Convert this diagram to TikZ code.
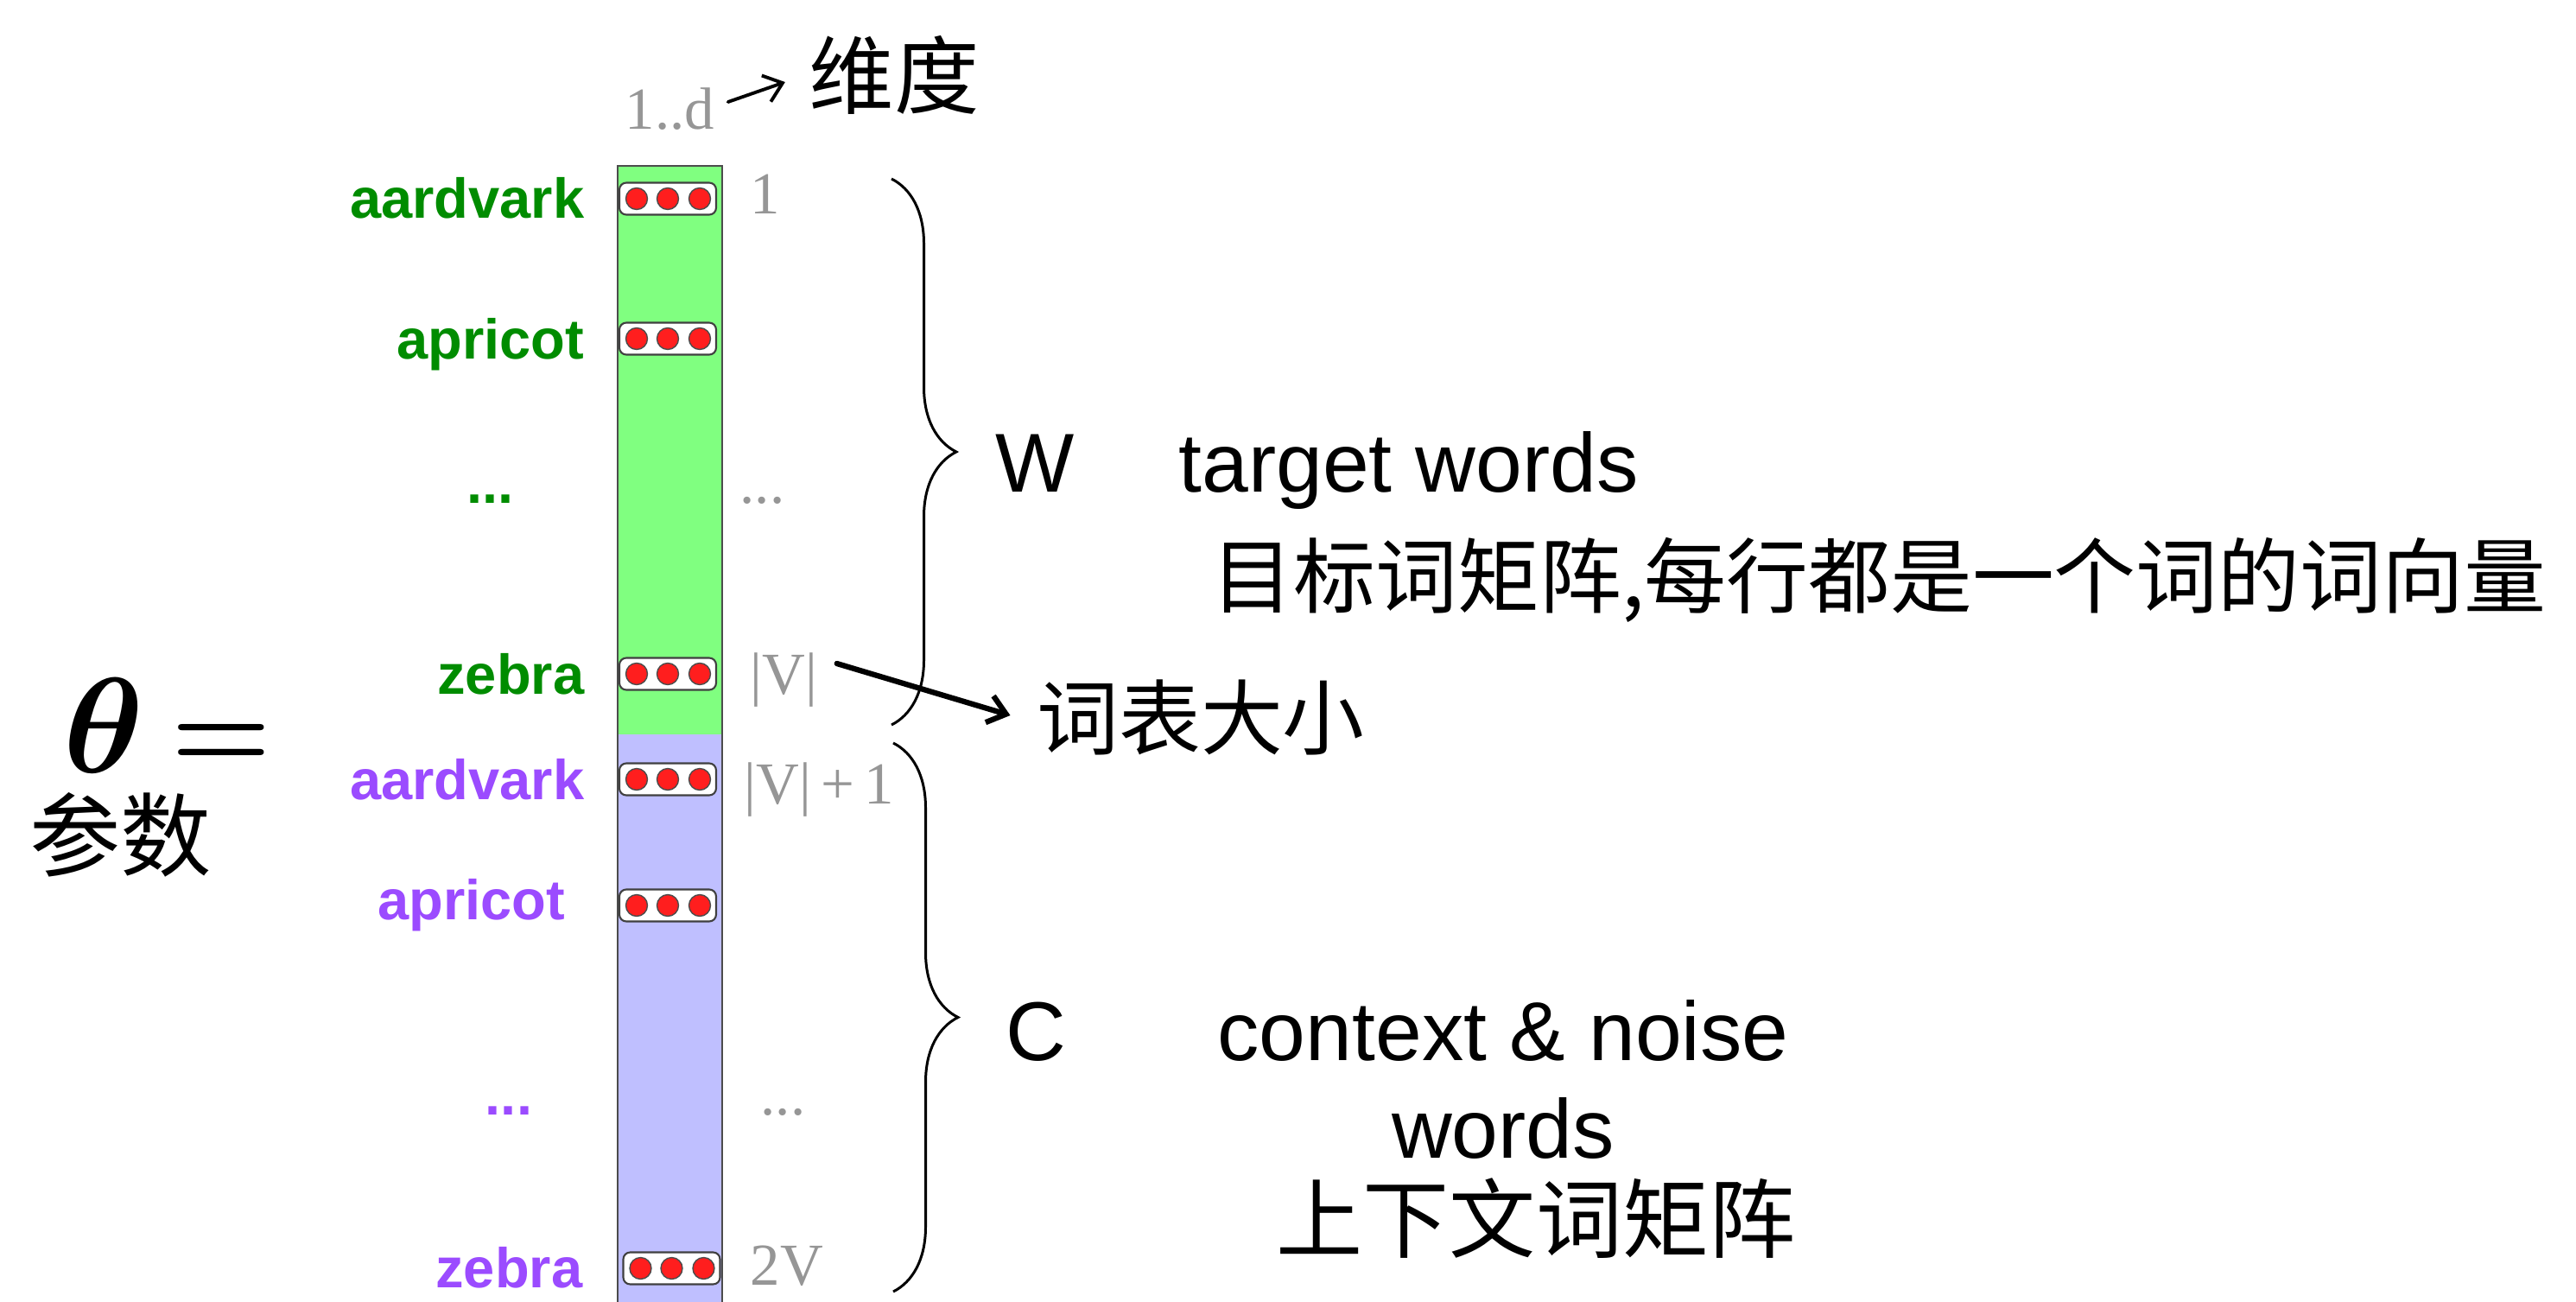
\documentclass[tikz,border=0pt]{standalone}
\usepackage{fontspec}
\usepackage{bm}
\usepackage{graphicx}
\usetikzlibrary{decorations.pathreplacing,arrows.meta}
\newfontfamily\sansf{Liberation Sans}
\newfontfamily\seriff{Liberation Serif}
\newfontfamily\cjk{Noto Sans CJK SC}
\definecolor{wgreen}{RGB}{0,140,0}
\definecolor{cpurple}{RGB}{155,75,255}
\definecolor{gfill}{RGB}{128,255,128}
\definecolor{pfill}{RGB}{191,191,255}
\definecolor{idxgray}{RGB}{150,150,150}
\definecolor{dotred}{RGB}{255,30,30}
\tikzset{
  lab/.style={inner sep=0pt, anchor=base east, font=\sansf\bfseries\fontsize{18.5}{22}\selectfont},
  idx/.style={inner sep=0pt, anchor=base west, text=idxgray, font=\seriff\fontsize{19.6}{23}\selectfont},
  big/.style={inner sep=0pt, anchor=base west, font=\sansf\fontsize{27.5}{32}\selectfont},
  hand/.style={inner sep=0pt, font=\cjk\fontsize{27}{32}\selectfont},
  vbox/.style={draw=black!75, line width=0.6pt, fill=white, rounded corners=0.08cm,
    minimum width=1.12cm, minimum height=0.37cm, inner sep=0pt},
  reddot/.style={fill=dotred, draw=black!70, line width=0.4pt},
  colborder/.style={draw=black!70, line width=0.6pt},
  bracestyle/.style={decorate, decoration={brace, amplitude=0.75cm}, line width=0.85pt},
  harrow/.style={-{Straight Barb[length=0.2cm,width=0.32cm]}, line width=1.8pt, line cap=round},
}
\begin{document}
\begin{tikzpicture}
\useasboundingbox (0,0) rectangle (29.82,-15.07);
\fill[white] (0,0) rectangle (29.82,-15.07);

% column
\fill[gfill] (7.15,-1.92) rectangle (8.36,-8.50);
\fill[pfill] (7.15,-8.50) rectangle (8.36,-15.12);
\draw[colborder] (7.15,-15.12) -- (7.15,-1.92) -- (8.36,-1.92) -- (8.36,-15.12);

% vector boxes
\foreach \nm/\x/\y in {b1/7.73/2.30, b2/7.73/3.92, b3/7.73/7.80, b4/7.73/9.02, b5/7.73/10.48, b6/7.775/14.68}{
  \node[vbox] (\nm) at (\x,-\y) {};
  \foreach \dx in {-0.36,0,0.37}
    \draw[reddot] ([xshift=\dx cm]\nm.center) circle (0.125);
}

% word labels
\node[lab, text=wgreen] (g1) at (6.77,-2.53) {aardvark};
\node[lab, text=wgreen] (g2) at (6.77,-4.15) {apricot};
\node[lab, text=wgreen, anchor=base] (g3) at (5.675,-5.82) {...};
\node[lab, text=wgreen] (g4) at (6.77,-8.03) {zebra};
\node[lab, text=cpurple] (p1) at (6.77,-9.25) {aardvark};
\node[lab, text=cpurple] (p2) at (6.55,-10.64) {apricot};
\node[lab, text=cpurple, anchor=base] (p3) at (5.89,-12.90) {...};
\node[lab, text=cpurple] (p4) at (6.75,-14.90) {zebra};

% index labels
\node[idx] (dim) at (7.23,-1.50) {1..d};
\node[idx] (i1) at (8.68,-2.48) {1};
\node[idx] (i2) at (8.56,-5.82) {...};
\node[idx] (vV) at (8.68,-8.03) {|V|};
\node[idx] (vV1) at (8.61,-9.30) {|V|\,+\,1};
\node[idx] (i3) at (8.80,-12.90) {...};
\node[idx] (i4) at (8.68,-14.87) {2V};

% theta
\node[inner sep=0pt, anchor=base west, scale=1.8] (theta) at (0.72,-8.94) {\Huge$\bm{\theta}$\hspace{0.2em}\raisebox{0.03em}{\scalebox{0.84}{$\bm{=}$}}};
\node[hand, font=\cjk\fontsize{30}{34}\selectfont] (param) at (1.40,-9.66) {参数};

% dimension note
\node[hand, font=\cjk\fontsize{28}{32}\selectfont] (wd) at (10.35,-0.87) {维度};
\draw[harrow, line width=1.1pt] ([xshift=0.15cm,yshift=0.32cm]dim.base east) -- ([xshift=-0.27cm,yshift=-0.08cm]wd.west);

% braces
\draw[bracestyle] (10.32,-2.07) -- (10.32,-8.39) coordinate[midway] (wtip);
\draw[bracestyle] (10.34,-8.60) -- (10.34,-14.95) coordinate[midway] (ctip);

% W block
\node[big] (W) at (11.52,-5.69) {W};
\node[big] (tw) at (13.64,-5.69) {target words};
\node[hand] (wnote) at (21.75,-6.71) {目标词矩阵,每行都是一个词的词向量};

% vocabulary size
\node[hand] (vocab) at (13.90,-8.30) {词表大小};
\draw[harrow] ([xshift=0.22cm,yshift=0.35cm]vV.base east) -- ([xshift=-0.30cm,yshift=0.02cm]vocab.west);

% C block
\node[big] (C) at (11.64,-12.27) {C};
\node[big, anchor=base] (ctx1) at (17.40,-12.27) {context \& noise};
\node[big, anchor=base] (ctx2) at (17.40,-13.40) {words};
\node[hand, font=\cjk\fontsize{28.5}{32}\selectfont] (cnote) at (17.78,-14.10) {上下文词矩阵};
\end{tikzpicture}
\end{document}
